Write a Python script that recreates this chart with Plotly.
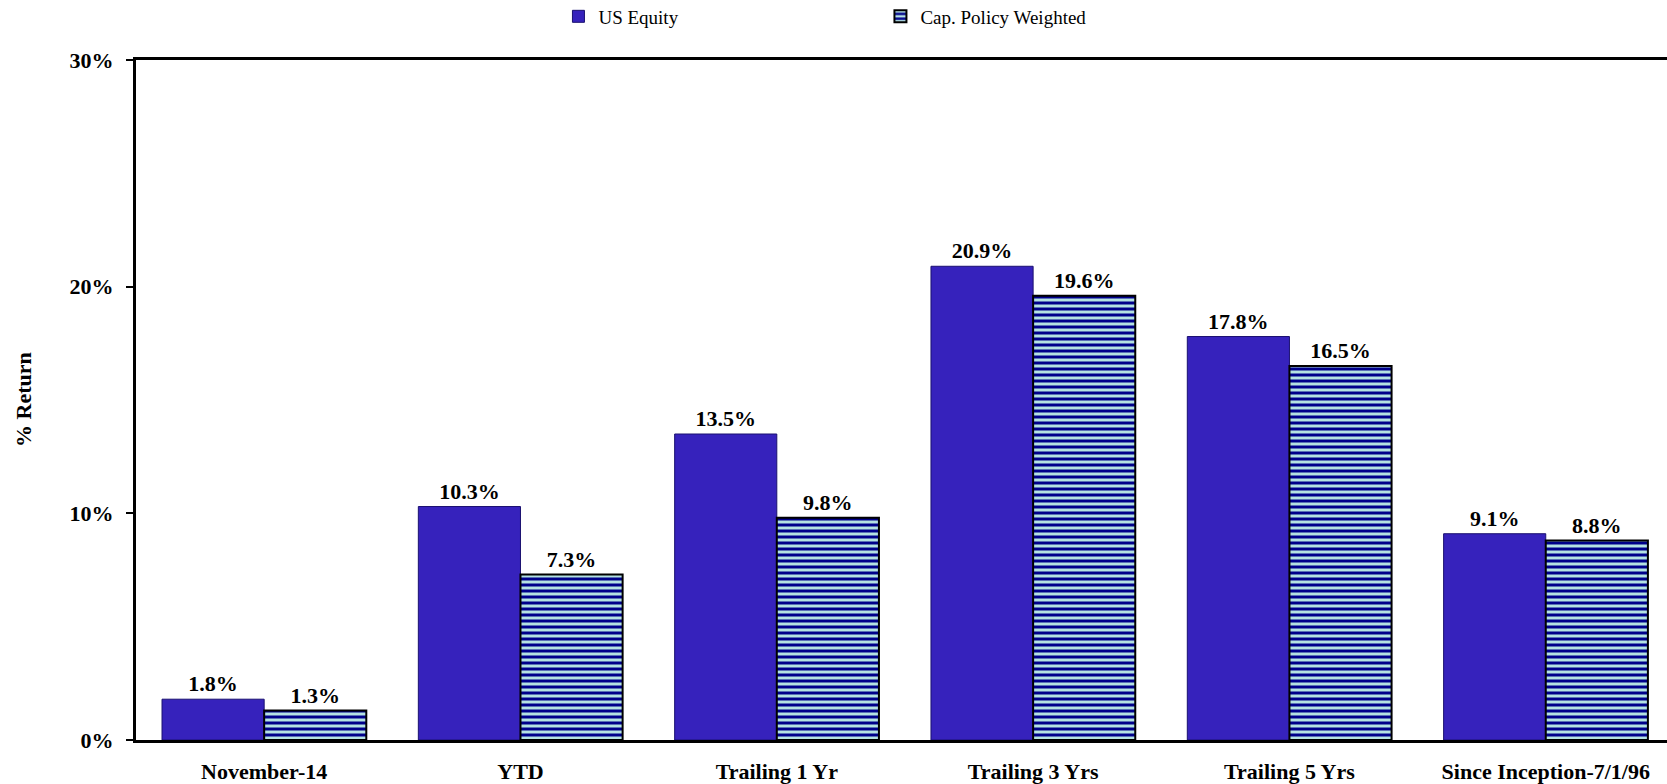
import plotly.graph_objects as go

categories = ["November-14", "YTD", "Trailing 1 Yr", "Trailing 3 Yrs", "Trailing 5 Yrs", "Since Inception-7/1/96"]
us_equity = [1.8, 10.3, 13.5, 20.9, 17.8, 9.1]
cap_policy = [1.3, 7.3, 9.8, 19.6, 16.5, 8.8]
y_ticks = [0, 10, 20, 30]
y_tick_text = ["0%", "10%", "20%", "30%"]

FONT = "Liberation Serif, Times New Roman, serif"

fig = go.Figure()
fig.add_trace(go.Bar(
    name="US Equity", x=categories, y=us_equity,
    marker=dict(color="#3622BC", line=dict(color="#1A1070", width=1)),
    texttemplate="%{y:.1f}%", textposition="outside",
    textfont=dict(family=FONT, size=22, color="black", weight="bold"),
    cliponaxis=False,
))
fig.add_trace(go.Bar(
    name="Cap. Policy Weighted", x=categories, y=cap_policy,
    marker=dict(color="#B4E2E2", line=dict(color="black", width=2),
                pattern=dict(shape="-", size=6, solidity=0.5,
                             fgcolor="#00008B", bgcolor="#B4E2E2", fillmode="replace")),
    texttemplate="%{y:.1f}%", textposition="outside",
    textfont=dict(family=FONT, size=22, color="black", weight="bold"),
    cliponaxis=False,
))

fig.update_layout(
    width=1667, height=784,
    margin=dict(l=136, r=0, t=60, b=39),
    paper_bgcolor="white", plot_bgcolor="white",
    barmode="group", bargap=0.203, bargroupgap=0,
    font=dict(family=FONT, color="black"),
    showlegend=True,
    legend=dict(orientation="h", xref="container", yref="container",
                x=0.335, y=0.979, xanchor="left", yanchor="middle",
                entrywidth=277, entrywidthmode="pixels",
                font=dict(family=FONT, size=19, color="black"),
                itemwidth=30, tracegroupgap=0),
    xaxis=dict(range=[-0.5, 5.473], showline=True, linewidth=3, linecolor="black",
               mirror=True, ticks="", showgrid=False, zeroline=False,
               tickfont=dict(family=FONT, size=22, color="black", weight="bold"),
               ticklabelstandoff=10),
    yaxis=dict(range=[0, 30], tickmode="array", tickvals=y_ticks, ticktext=y_tick_text,
               showline=True, linewidth=3, linecolor="black",
               ticks="outside", ticklen=7, tickwidth=2, tickcolor="black",
               showgrid=False, zeroline=False,
               tickfont=dict(family=FONT, size=22, color="black", weight="bold"),
               ticklabelstandoff=8,
               automargin=False),
    annotations=[dict(text="<b>% Return</b>", xref="paper", yref="paper",
                      x=-0.0738, y=0.5, xanchor="center", yanchor="middle",
                      textangle=-90, showarrow=False,
                      font=dict(family=FONT, size=22, color="black"))],
)

fig.write_html("out.html")
